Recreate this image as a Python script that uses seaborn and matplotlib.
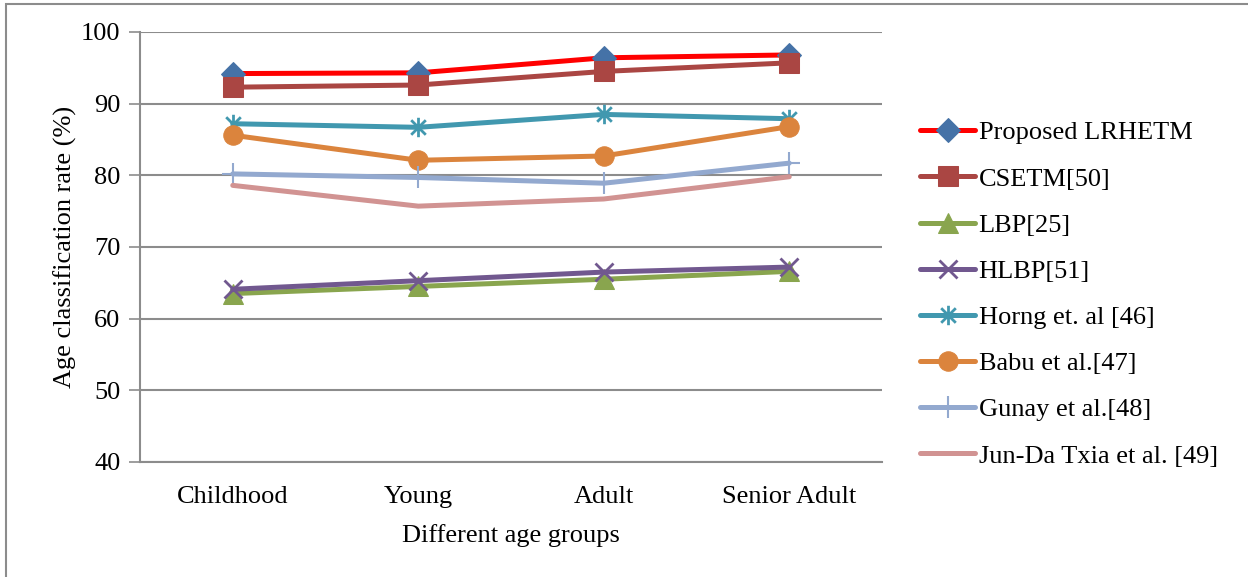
import numpy as np
import seaborn as sns
import matplotlib.pyplot as plt
from matplotlib.patches import Rectangle
from matplotlib.path import Path

# Data
groups = ["Childhood", "Young", "Adult", "Senior Adult"]
proposed = [94.2, 94.3, 96.4, 96.8]
csetm = [92.3, 92.6, 94.5, 95.7]
lbp = [63.5, 64.5, 65.5, 66.6]
hlbp = [64.1, 65.3, 66.5, 67.2]
horng = [87.2, 86.7, 88.5, 87.9]
babu = [85.6, 82.1, 82.7, 86.8]
gunay = [80.2, 79.7, 78.9, 81.7]
junda = [78.6, 75.7, 76.7, 79.8]

sns.set_theme(style="white")
plt.rcParams['font.family'] = ['Liberation Serif', 'DejaVu Serif']
plt.rcParams['text.color'] = 'black'
plt.rcParams['axes.labelcolor'] = 'black'
plt.rcParams['xtick.color'] = 'black'
plt.rcParams['ytick.color'] = 'black'
FS = 19

fig = plt.figure(figsize=(12.48, 5.77), dpi=100)
ax = fig.add_axes([140 / 1248, 1 - 462 / 577, 742 / 1248, 430 / 577])

# outer chart frame
fig.patches.append(Rectangle((6 / 1248, -0.1), 1.2, 1.1 - 4 / 577, transform=fig.transFigure,
                             fill=False, edgecolor="#8c8c8c", linewidth=1.5))

# excel-like star marker: vertical bar plus an x
star = Path([(0, -1), (0, 1), (-0.75, -0.75), (0.75, 0.75), (-0.75, 0.75), (0.75, -0.75)],
            [Path.MOVETO, Path.LINETO, Path.MOVETO, Path.LINETO, Path.MOVETO, Path.LINETO])

x = np.arange(len(groups))
series = [
    ("Proposed LRHETM", proposed, "#FF0000", dict(marker="D", markersize=12, markerfacecolor="#4572A7", markeredgecolor="#4572A7")),
    ("CSETM[50]", csetm, "#AA4643", dict(marker="s", markersize=14, markerfacecolor="#AA4643", markeredgecolor="#AA4643")),
    ("LBP[25]", lbp, "#89A54E", dict(marker="^", markersize=14, markerfacecolor="#89A54E", markeredgecolor="#89A54E")),
    ("HLBP[51]", hlbp, "#71588F", dict(marker="x", markersize=13, markeredgewidth=2, markeredgecolor="#71588F")),
    ("Horng et. al [46]", horng, "#4198AF", dict(marker=star, markersize=14, markeredgewidth=2, markeredgecolor="#4198AF", markerfacecolor="none")),
    ("Babu et al.[47]", babu, "#DB843D", dict(marker="o", markersize=14, markerfacecolor="#DB843D", markeredgecolor="#DB843D")),
    ("Gunay et al.[48]", gunay, "#93A9CF", dict(marker="+", markersize=16, markeredgewidth=1.5, markeredgecolor="#93A9CF")),
    ("Jun-Da Txia et al. [49]", junda, "#D19392", dict(marker=None)),
]

for label, vals, color, mk in series:
    sns.lineplot(x=x, y=vals, ax=ax, color=color, linewidth=3.6, label=label, **mk)

ax.set_xlim(-0.5, 3.5)
ax.set_ylim(40, 100)
ax.set_yticks(range(40, 101, 10))
ax.set_xticks(x)
ax.set_xticklabels(groups)
ax.set_xticks(np.arange(-0.5, 4, 1), minor=True)
ax.tick_params(axis="x", which="major", length=0, pad=17, labelsize=FS)
ax.tick_params(axis="x", which="minor", length=6, width=1.2, color="#8c8c8c", direction="out")
ax.tick_params(axis="y", length=8, width=1.2, color="#8c8c8c", labelcolor="black", direction="out", pad=6, labelsize=FS)
ax.tick_params(bottom=True, left=True)
ax.grid(axis="y", color="#8c8c8c", linewidth=1.5)
ax.set_axisbelow(True)
for side in ["top", "right"]:
    ax.spines[side].set_visible(False)
for side in ["left", "bottom"]:
    ax.spines[side].set_color("#8c8c8c")
    ax.spines[side].set_linewidth(1.5)

ax.set_xlabel("Different age groups", fontsize=FS, labelpad=12)
ax.set_ylabel("Age classification rate (%)", fontsize=FS, labelpad=3)

ax.legend(loc="upper left", bbox_to_anchor=(920 / 1248, 1 - 121 / 577), bbox_transform=fig.transFigure,
          frameon=False, fontsize=FS, handlelength=2.1, handletextpad=0.12, labelspacing=0.86,
          borderaxespad=0, borderpad=0)

fig.savefig("out.png", dpi=100)
